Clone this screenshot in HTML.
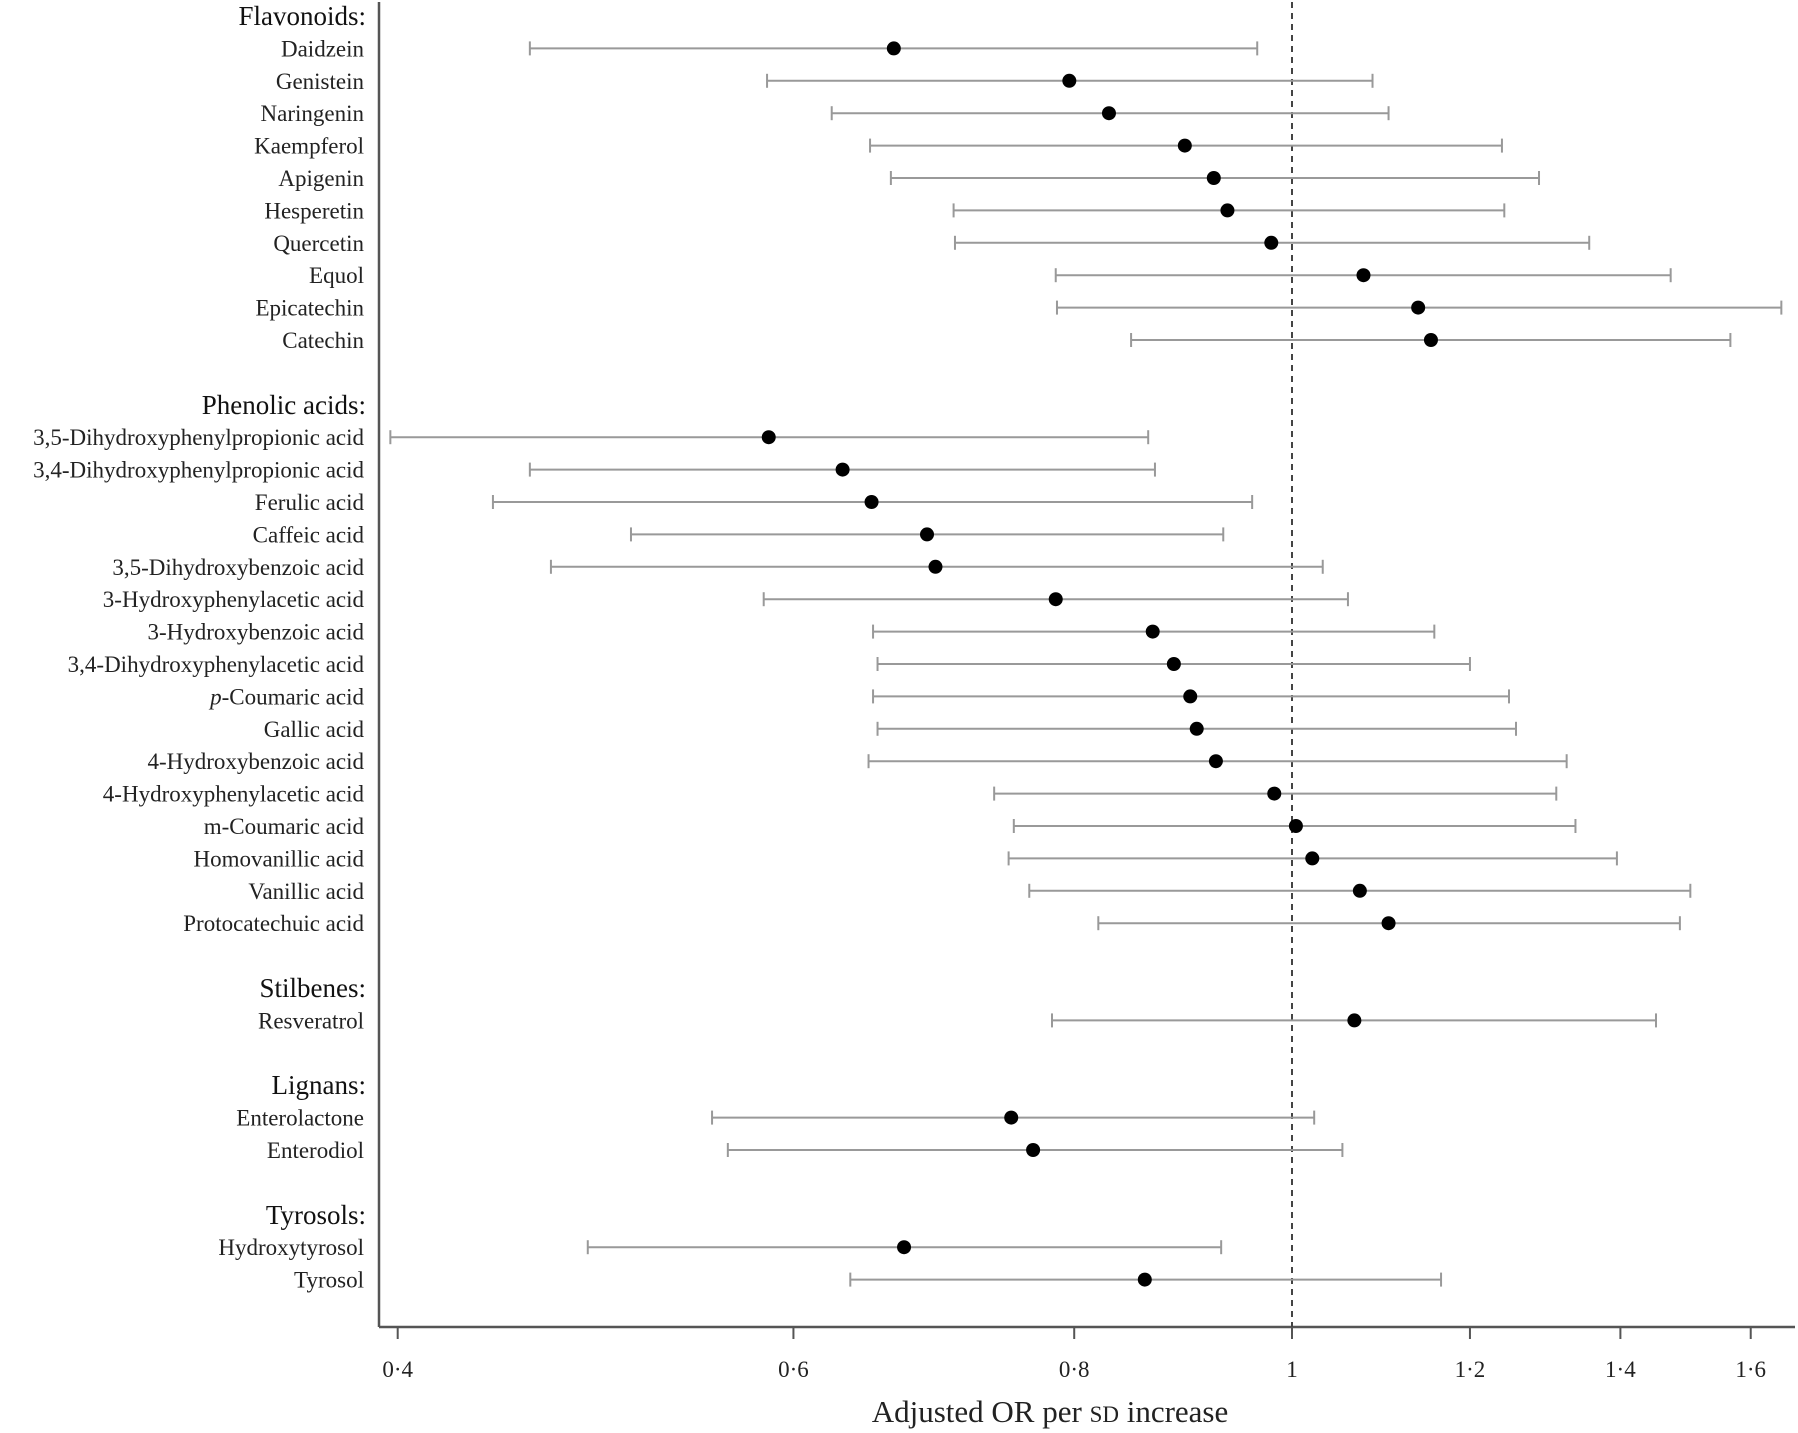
<!DOCTYPE html>
<html><head><meta charset="utf-8"><style>
html,body{margin:0;padding:0;background:#fff}
svg{display:block;font-family:"Liberation Serif",serif}
</style></head><body>
<svg id="chart" width="1798" height="1433" viewBox="0 0 1798 1433" xmlns="http://www.w3.org/2000/svg">
<g id="axes"></g><g id="rows"></g>
</svg>
<script>
const labels = ["Daidzein","Genistein","Naringenin","Kaempferol","Apigenin","Hesperetin","Quercetin","Equol","Epicatechin","Catechin",
"3,5-Dihydroxyphenylpropionic acid","3,4-Dihydroxyphenylpropionic acid","Ferulic acid","Caffeic acid","3,5-Dihydroxybenzoic acid","3-Hydroxyphenylacetic acid","3-Hydroxybenzoic acid","3,4-Dihydroxyphenylacetic acid","p-Coumaric acid","Gallic acid","4-Hydroxybenzoic acid","4-Hydroxyphenylacetic acid","m-Coumaric acid","Homovanillic acid","Vanillic acid","Protocatechuic acid",
"Resveratrol","Enterolactone","Enterodiol","Hydroxytyrosol","Tyrosol"];
const slots = [1,2,3,4,5,6,7,8,9,10,13,14,15,16,17,18,19,20,21,22,23,24,25,26,27,28,31,34,35,38,39];
const orValues = [0.665,0.796,0.829,0.896,0.923,0.936,0.979,1.076,1.138,1.153,0.585,0.631,0.650,0.688,0.694,0.785,0.867,0.886,0.901,0.907,0.925,0.982,1.004,1.021,1.072,1.104,1.066,0.750,0.767,0.672,0.860];
const lowerCI = [0.458,0.584,0.624,0.649,0.663,0.707,0.708,0.785,0.786,0.848,0.397,0.458,0.441,0.508,0.468,0.582,0.651,0.654,0.651,0.654,0.648,0.737,0.752,0.748,0.764,0.820,0.782,0.552,0.561,0.486,0.636];
const upperCI = [0.965,1.086,1.104,1.240,1.288,1.243,1.356,1.474,1.651,1.567,0.863,0.869,0.960,0.932,1.032,1.059,1.157,1.200,1.249,1.258,1.325,1.311,1.337,1.395,1.504,1.488,1.452,1.023,1.053,0.930,1.165];
const groupNames = ["Flavonoids:","Phenolic acids:","Stilbenes:","Lignans:","Tyrosols:"];
const groupSlots = [0,12,30,33,37];
const tickValues = [0.4,0.6,0.8,1,1.2,1.4,1.6];
const tickLabels = ["0·4","0·6","0·8","1","1·2","1·4","1·6"];

const NS="http://www.w3.org/2000/svg";
const xScale = v => 1292 + 976*Math.log(v);
const yScale = s => 16 + 32.4*s;
function mk(tag, attrs, parent, text){const e=document.createElementNS(NS,tag);for(const k in attrs)e.setAttribute(k,attrs[k]);if(text!==undefined)e.textContent=text;parent.appendChild(e);return e;}
const axes=document.getElementById('axes'), rows=document.getElementById('rows');
const axisY=1327, axisL=379, axisR=1795;
let e;
e=mk('line',{x1:axisL,y1:2,x2:axisL,y2:axisY,stroke:'#555','stroke-width':2.5},axes);


e=mk('line',{x1:axisL,y1:axisY,x2:axisR,y2:axisY,stroke:'#555','stroke-width':2.5},axes);


e=mk('line',{x1:xScale(1),y1:2,x2:xScale(1),y2:axisY+10,stroke:'#444','stroke-width':2,'stroke-dasharray':'6,5'},axes);


tickValues.forEach((v,i)=>{
  const x=xScale(v);
  e=mk('line',{x1:x,y1:axisY,x2:x,y2:axisY+12,stroke:'#555','stroke-width':2},axes);
  
  
  e=mk('text',{x:x,y:axisY+50,'text-anchor':'middle','font-size':23,fill:'#222'},axes,tickLabels[i]);
  
  
});
e=mk('text',{x:1050,y:1422,'text-anchor':'middle','font-size':31,fill:'#222'},axes);


e.innerHTML='Adjusted OR per <tspan font-size="23">SD</tspan> increase';
groupNames.forEach((g,i)=>{
  e=mk('text',{x:366,y:yScale(groupSlots[i])+9,'text-anchor':'end','font-size':27,fill:'#111'},rows,g);
  
  
});
labels.forEach((l,i)=>{
  const y=yScale(slots[i]);
  e=mk('text',{x:364,y:y+8,'text-anchor':'end','font-size':23,fill:'#222'},rows);
  if(l.startsWith('p-')){e.innerHTML='<tspan font-style="italic">p</tspan>-'+l.slice(2);}else e.textContent=l;
  
  
  const x1=xScale(lowerCI[i]), x2=xScale(upperCI[i]);
  e=mk('line',{x1:x1,y1:y,x2:x2,y2:y,stroke:'#999','stroke-width':2},rows);
  
  
  [x1,x2].forEach(x=>{
    e=mk('line',{x1:x,y1:y-7,x2:x,y2:y+7,stroke:'#999','stroke-width':2},rows);
    
    
  });
  e=mk('circle',{cx:xScale(orValues[i]),cy:y,r:7,fill:'#000'},rows);
  
  
});
</script>
</body></html>
